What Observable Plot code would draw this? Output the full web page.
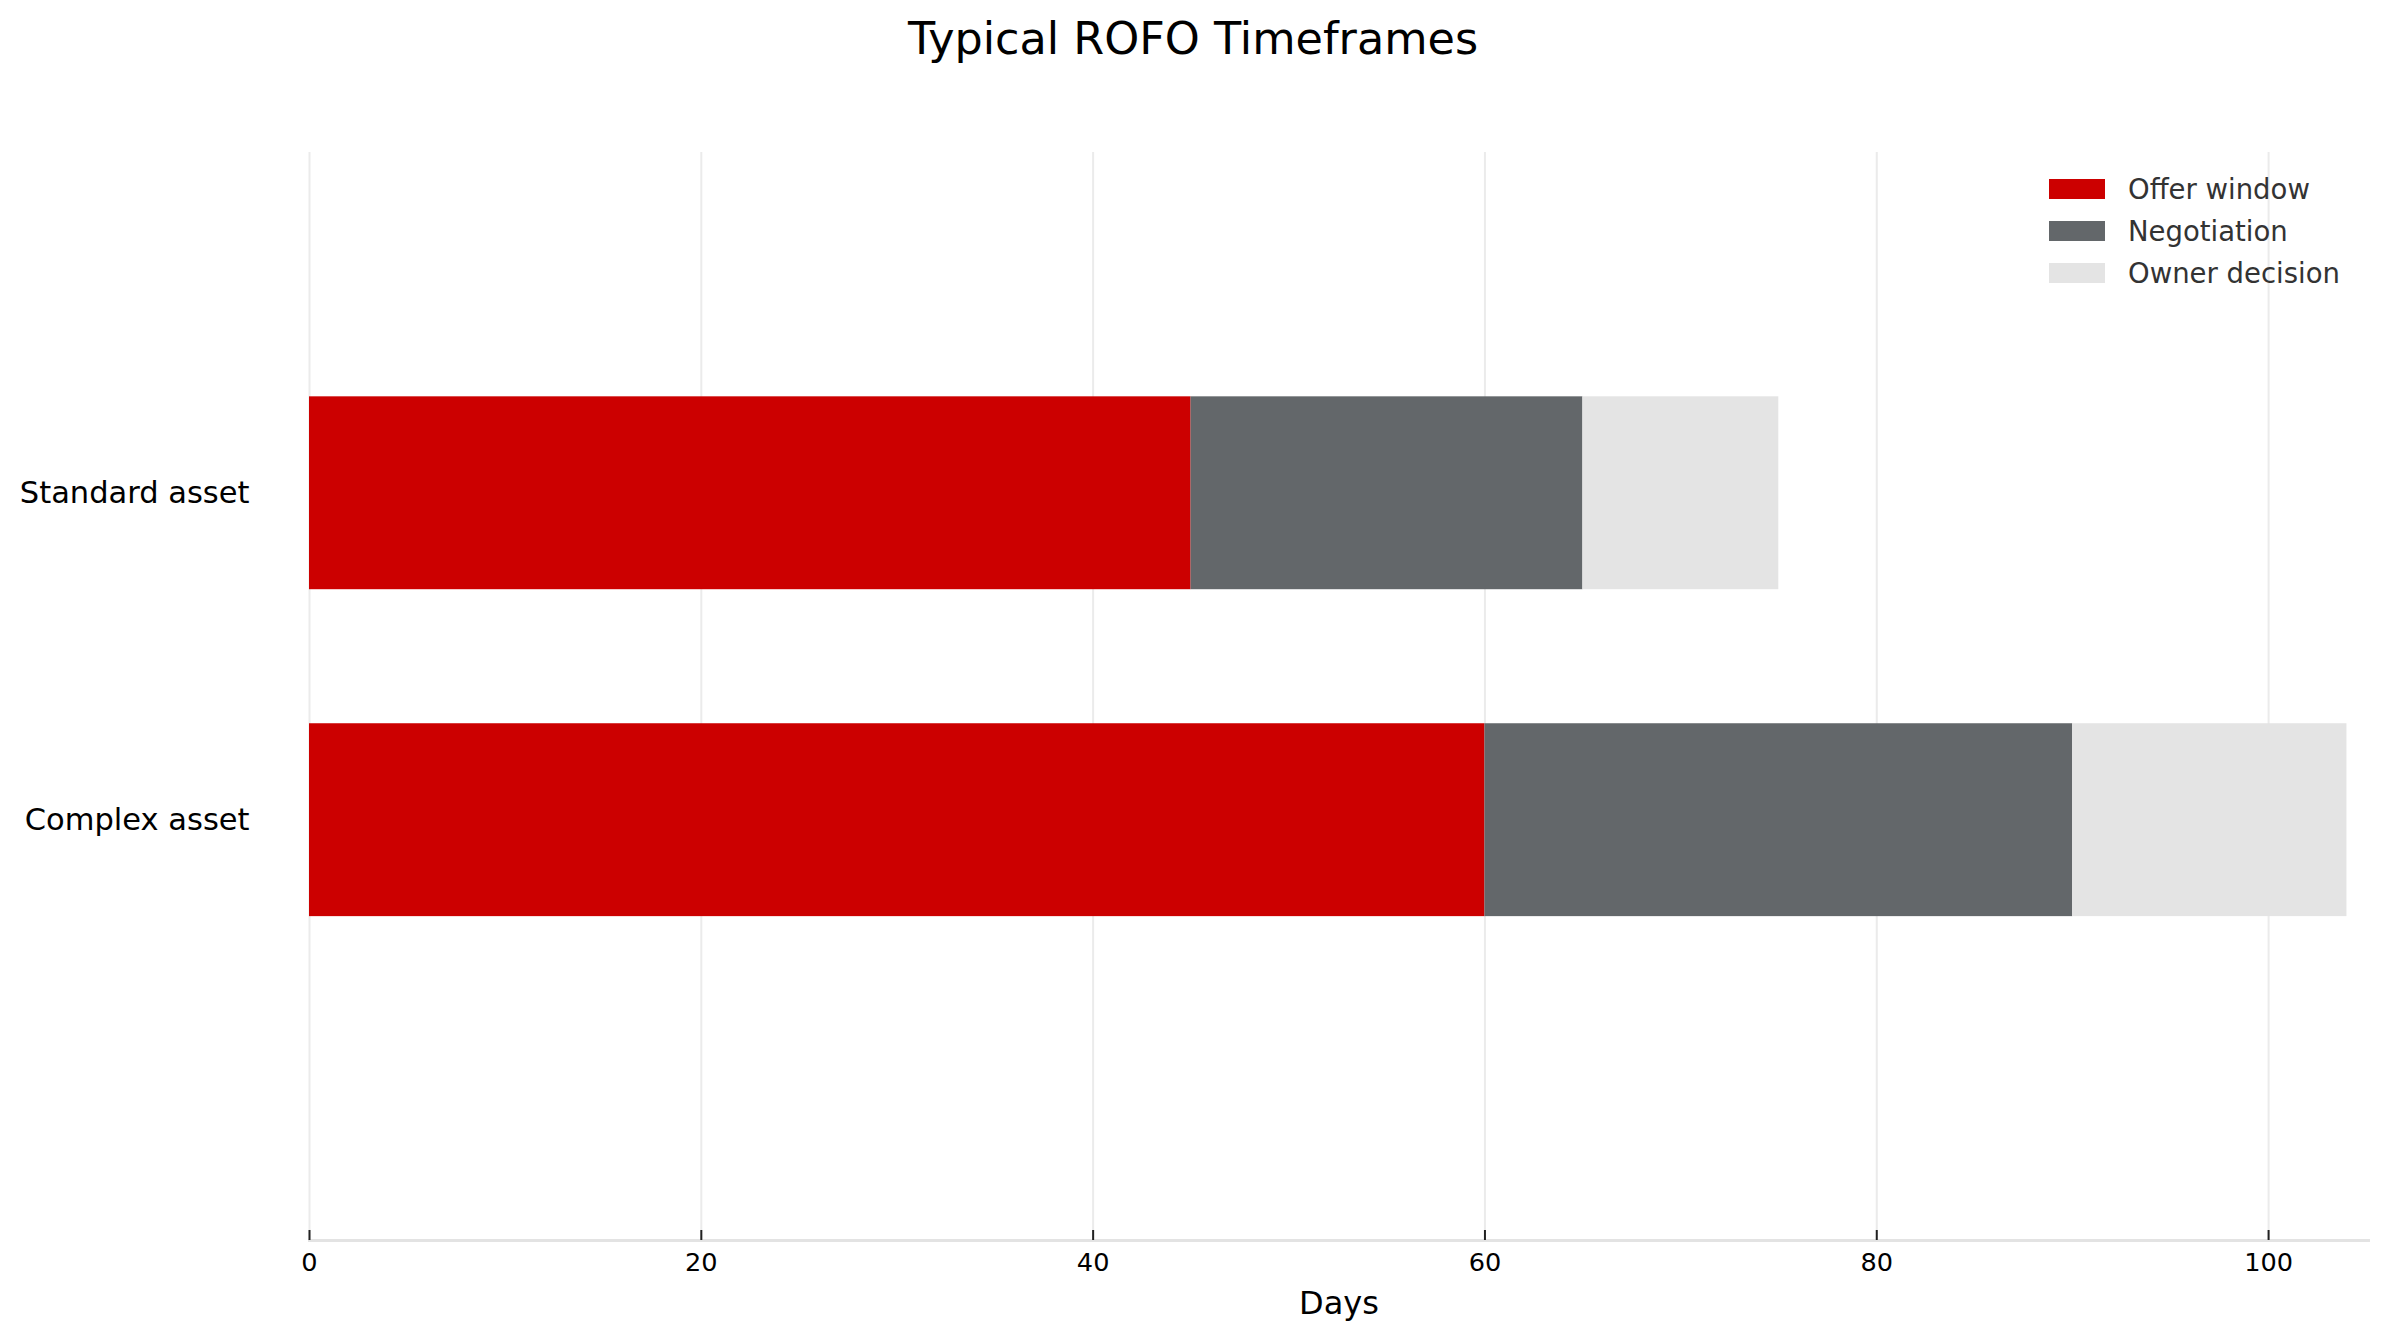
<!DOCTYPE html>
<html><head><meta charset="utf-8">
<script src="https://cdn.jsdelivr.net/npm/d3@7"></script>
<script src="https://cdn.jsdelivr.net/npm/@observablehq/plot@0.6"></script>
<style>
html,body{margin:0;padding:0;background:#fff;}
body{width:2386px;height:1342px;position:relative;overflow:hidden;font-family:"DejaVu Sans",sans-serif;}
#title{height:100px;text-align:center;font-size:44.5px;line-height:1;color:#000;box-sizing:border-box;padding-top:17px;margin:0;font-weight:normal;}
#chart{height:1242px;}
#legend{position:absolute;left:2049px;top:168px;}
.row{display:flex;align-items:center;height:42px;}
.sw{width:56px;height:20px;margin-right:23px;}
.lab{font-size:27.5px;color:#333;}
</style></head><body>
<div id="title">Typical ROFO Timeframes</div>
<div id="chart"></div>
<div id="legend"></div>
<script>
const categories = ["Standard asset", "Complex asset"];
const phases = ["Offer window", "Negotiation", "Owner decision"];
const offerWindow = [45, 60];
const negotiation = [20, 30];
const ownerDecision = [10, 14];
const phaseColors = ["#cc0000", "#63676a", "#e4e4e4"];
const xTicks = [0, 20, 40, 60, 80, 100];
const xLabel = "Days";

const series = [offerWindow, negotiation, ownerDecision];
const data = [];
categories.forEach((c, i) => {
  series.forEach((arr, j) => data.push({category: c, phase: phases[j], days: arr[i]}));
});

const chart = Plot.plot({
  width: 2386,
  height: 1242,
  marginTop: 52,
  marginBottom: 102,
  marginLeft: 309,
  marginRight: 18,
  style: {fontFamily: "DejaVu Sans", background: "#fff", color: "#000", overflow: "visible"},
  x: {domain: [0, 105.1], ticks: xTicks, label: null},
  y: {type: "band", domain: categories, paddingInner: 0.41, paddingOuter: 0.869, align: 0.43, round: false, label: null},
  color: {domain: phases, range: phaseColors},
  marks: [
    Plot.gridX(xTicks, {stroke: "#ebebeb", strokeOpacity: 1, strokeWidth: 2}),
    Plot.barX(data, Plot.stackX({y: "category", x: "days", fill: "phase"})),
    Plot.frame({anchor: "bottom", stroke: "#e3e3e3", strokeOpacity: 1, strokeWidth: 3}),
    Plot.axisX(xTicks, {tickSize: 10, dy: -10, tickFormat: () => "", stroke: "#222", strokeWidth: 2, label: null}),
    Plot.axisX(xTicks, {tickSize: 0, tickPadding: 12, fontSize: 25.6, fill: "#000", label: null}),
    Plot.text([xLabel], {frameAnchor: "bottom", lineAnchor: "top", dy: 51, fontSize: 32, fill: "#000"}),
    Plot.axisY({tickSize: 0, tickPadding: 60, fontSize: 30.5, fill: "#000", label: null})
  ]
});
document.getElementById("chart").appendChild(chart);

const legend = document.getElementById("legend");
phases.forEach((p, i) => {
  const row = document.createElement("div");
  row.className = "row";
  const sw = document.createElement("div");
  sw.className = "sw";
  sw.style.background = phaseColors[i];
  const lab = document.createElement("span");
  lab.className = "lab";
  lab.textContent = p;
  row.appendChild(sw);
  row.appendChild(lab);
  legend.appendChild(row);
});
</script>
</body></html>
